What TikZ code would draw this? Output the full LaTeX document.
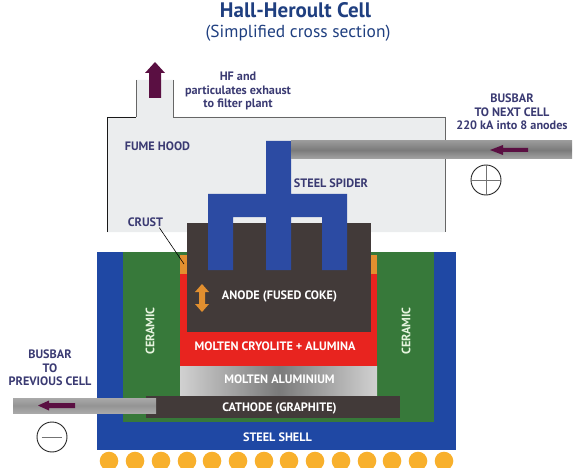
\documentclass[tikz,border=0pt]{standalone}
\usepackage{fontspec}
\setmainfont{PT Sans}
\definecolor{hoodgrey}{HTML}{EBEDEE}
\definecolor{shellblue}{HTML}{1F48A4}
\definecolor{spiderblue}{HTML}{2C4BA3}
\definecolor{ceramicgreen}{HTML}{37793A}
\definecolor{cokebrown}{HTML}{423A39}
\definecolor{cryored}{HTML}{E8241F}
\definecolor{crustorange}{HTML}{E28F2F}
\definecolor{ballyellow}{HTML}{F8B02C}
\definecolor{arrowplum}{HTML}{5A0F42}
\definecolor{titleblue}{HTML}{1F3F80}
\definecolor{labelnavy}{HTML}{3A3A72}
\definecolor{palegreen}{HTML}{E6F4DE}
\pgfdeclareverticalshading{busbarshade}{100bp}{
  color(0bp)=(black!35!white);
  color(9bp)=(black!30!white);
  color(12bp)=(black!8!white);
  color(17bp)=(black!30!white);
  color(50bp)=(black!52!white);
  color(85bp)=(black!35!white);
  color(92bp)=(black!55!white);
  color(100bp)=(black!45!white)}
\pgfdeclareverticalshading{busbarshadelight}{100bp}{
  color(0bp)=(black!25!white);
  color(10bp)=(black!12!white);
  color(20bp)=(black!32!white);
  color(50bp)=(black!42!white);
  color(80bp)=(black!32!white);
  color(92bp)=(black!38!white);
  color(100bp)=(black!30!white)}
\tikzset{
  navylabel/.style={text=labelnavy,font=\bfseries\fontsize{12.2}{14}\selectfont,inner sep=0pt},
  whitelabel/.style={text=white,font=\bfseries\fontsize{12.2}{14}\selectfont,inner sep=0pt},
  multiline/.style={navylabel,align=center},
  ball/.style={fill=ballyellow,draw=none,circle,minimum size=18.6pt,inner sep=0pt},
  flowarrow/.style={fill=arrowplum,draw=none},
  polarity/.style={circle,draw=black!85,line width=0.9pt,minimum size=30pt,inner sep=0pt},
  polaritybar/.style={draw=black!55,line width=0.9pt},
  hoodline/.style={line width=0.9pt},
}
\begin{document}
\begin{tikzpicture}[x=1pt,y=-1pt]
\useasboundingbox (0,0) rectangle (584,468);
% Title
\node[text=titleblue,font=\bfseries\fontsize{21}{24}\selectfont,inner sep=0pt] (title) at (295.5,10) {Hall-Heroult Cell};
\node[text=titleblue,font=\fontsize{17.4}{20}\selectfont,inner sep=0pt] (subtitle) at (298,33) {(Simplified cross section)};
% Fume hood
\fill[hoodgrey] (107,232) -- (107,117) -- (136,117) -- (136,80) -- (173,80) -- (173,117) -- (445,117) -- (445,232) -- cycle;
\draw[hoodline,black!90] (107,232) -- (107,117) -- (136,117);
\draw[hoodline,black!60] (136,117) -- (136,80);
\draw[hoodline,black!60] (173,80) -- (173,117) -- (445,117);
\draw[line width=0.6pt,black!60] (445,117) -- (445,232);
% Exhaust arrow
\fill[flowarrow] (149,98) -- (149,73) -- (145,73) -- (155,62) -- (165,73) -- (161,73) -- (161,98) -- cycle;
% Shell, ceramic, bath
\fill[shellblue] (97,252) rectangle (456,450);
\fill[ceramicgreen] (123,252) rectangle (434,422);
\fill[crustorange] (180,255) rectangle (377,274);
\fill[cryored] (180,274) rectangle (377,366);
\shade[left color=black!18,right color=black!18,middle color=black!52] (180,366) rectangle (377,395);
\fill[cokebrown] (146,396) rectangle (400,418);
% Anode
\fill[cokebrown] (187,223) rectangle (371,332);
% Spider
\fill[spiderblue] (266,141) -- (291,141) -- (291,194) -- (347,194) -- (347,270) -- (322,270) -- (322,217) -- (291,217) -- (291,270) -- (266,270) -- (266,217) -- (233,217) -- (233,270) -- (208,270) -- (208,194) -- (266,194) -- cycle;
% Busbars
\shade[shading=busbarshade] (291,141) rectangle (572,159);
\shade[shading=busbarshadelight] (13,398) rectangle (156,413);
\fill[flowarrow] (528,148) -- (503,148) -- (503,145) -- (490,150) -- (503,155) -- (503,152) -- (528,152) -- cycle;
\fill[flowarrow] (75,403) -- (49,403) -- (49,400.5) -- (38,405.5) -- (49,410.5) -- (49,408) -- (75,408) -- cycle;
% Polarity symbols
\node[polarity] (plus) at (486,180) {};
\draw[polaritybar] (plus.west) -- (plus.east);
\draw[polaritybar] (plus.north) -- (plus.south);
\node[polarity] (minus) at (52,437) {};
\draw[polaritybar] ([xshift=5pt]minus.west) -- ([xshift=-5pt]minus.east);
% Anode movement arrow
\fill[crustorange] (202,284) -- (209,292) -- (205,292) -- (205,304) -- (209,304) -- (202,312) -- (195,304) -- (199,304) -- (199,292) -- (195,292) -- cycle;
% Heating balls
\foreach \bx [count=\bi] in {109,135,161,187,212,238,264,289,315,341,367,392,418,444}
  \node[ball] (ball\bi) at (\bx,461) {};
% Labels
\node[multiline] (exhaust) at (238,91) {HF and\\[-0.4pt]particulates exhaust\\[-0.4pt]to filter plant};
\node[multiline] (nextbus) at (512,112) {BUSBAR\\[-0.4pt]TO NEXT CELL\\[-0.4pt]220 kA into 8 anodes};
\node[multiline] (prevbus) at (50,368) {BUSBAR\\[-0.4pt]TO\\[-0.4pt]PREVIOUS CELL};
\node[navylabel] (fume) at (157.5,146) {FUME HOOD};
\node[navylabel] (spider) at (331,183) {STEEL SPIDER};
\node[navylabel] (crust) at (145.5,222) {CRUST};
\coordinate (crusttip) at (184,264);
\draw[black,line width=0.6pt] ([xshift=-4pt,yshift=-1pt]crust.south east) -- (crusttip);
\node[whitelabel] (anode) at (279.5,296) {ANODE (FUSED COKE)};
\node[whitelabel] (cryolite) at (275,346) {MOLTEN CRYOLITE + ALUMINA};
\node[whitelabel] (alum) at (279.5,379) {MOLTEN ALUMINIUM};
\node[whitelabel] (cathode) at (279.5,408) {CATHODE (GRAPHITE)};
\node[whitelabel] (shell) at (277.5,437) {STEEL SHELL};
\node[whitelabel,text=palegreen,rotate=90] (cerl) at (150,331) {CERAMIC};
\node[whitelabel,text=palegreen,rotate=90] (cerr) at (406,331) {CERAMIC};
\end{tikzpicture}
\end{document}
